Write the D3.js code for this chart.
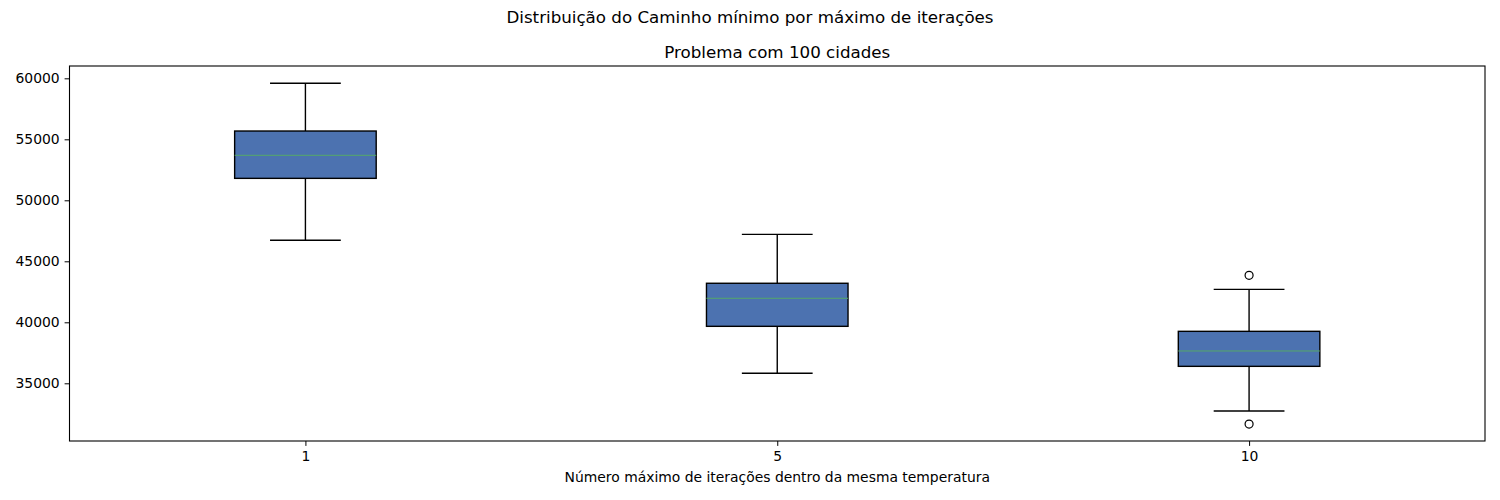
<!DOCTYPE html>
<html>
<head>
<meta charset="utf-8">
<script src="https://cdn.jsdelivr.net/npm/d3@7"></script>
<style>
  body { margin: 0; background: #fff; }
  text { font-family: "DejaVu Sans", sans-serif; fill: #000; }
</style>
</head>
<body>
<svg width="1500" height="500"></svg>
<script>
// data
var categories = ["1", "5", "10"];
var whiskerLow  = [46720, 35820, 32730];
var q1          = [51800, 39670, 36390];
var median      = [53690, 41970, 37650];
var q3          = [55680, 43200, 39260];
var whiskerHigh = [59590, 47210, 42700];
var fliers      = [[], [], [43850, 31660]];
var yTicks = [35000, 40000, 45000, 50000, 55000, 60000];

var boxes = categories.map(function(c, i) {
  return { cat: c, lo: whiskerLow[i], q1: q1[i], med: median[i], q3: q3[i], hi: whiskerHigh[i], out: fliers[i] };
});

var svg = d3.select("svg");
var plotL = 69.5, plotR = 1485, plotT = 66, plotB = 441;

var x = d3.scaleLinear().domain([0.5, 3.5]).range([plotL, plotR]);
var y = d3.scaleLinear().domain([30270, 61010]).range([plotB, plotT]);
var boxW = x(1.3) - x(1), capW = x(1.15) - x(1);

// titles
svg.append("text")
    .attr("x", 750).attr("y", 23)
    .attr("text-anchor", "middle")
    .style("font-size", "16.7px")
    .text("Distribuição do Caminho mínimo por máximo de iterações");
svg.append("text")
    .attr("x", (plotL + plotR) / 2).attr("y", 58)
    .attr("text-anchor", "middle")
    .style("font-size", "16.7px")
    .text("Problema com 100 cidades");

// y axis
var gy = svg.append("g").attr("transform", "translate(" + plotL + ",0)")
  .call(d3.axisLeft(y).tickValues(yTicks).tickSize(4.9).tickPadding(4.9).tickFormat(d3.format("d")));
gy.select(".domain").remove();
gy.selectAll("text").style("font-size", "13.9px").style("font-family", "DejaVu Sans");

// x axis
var gx = svg.append("g").attr("transform", "translate(0," + plotB + ")")
  .call(d3.axisBottom(x).tickValues([1, 2, 3]).tickSize(4.9).tickPadding(4.9)
    .tickFormat(function(d) { return categories[d - 1]; }));
gx.select(".domain").remove();
gx.selectAll("text").style("font-size", "13.9px").style("font-family", "DejaVu Sans");

svg.append("text")
    .attr("x", (plotL + plotR) / 2).attr("y", 482)
    .attr("text-anchor", "middle")
    .style("font-size", "13.9px")
    .text("Número máximo de iterações dentro da mesma temperatura");

// boxes
var g = svg.selectAll(".box").data(boxes).enter().append("g").attr("class", "box");

g.append("line")
    .attr("x1", function(d, i) { return x(i + 1); })
    .attr("x2", function(d, i) { return x(i + 1); })
    .attr("y1", function(d) { return y(d.lo); })
    .attr("y2", function(d) { return y(d.q1); })
    .attr("stroke", "#000").attr("stroke-width", 1.4);
g.append("line")
    .attr("x1", function(d, i) { return x(i + 1); })
    .attr("x2", function(d, i) { return x(i + 1); })
    .attr("y1", function(d) { return y(d.q3); })
    .attr("y2", function(d) { return y(d.hi); })
    .attr("stroke", "#000").attr("stroke-width", 1.4);
["lo", "hi"].forEach(function(k) {
  g.append("line")
      .attr("x1", function(d, i) { return x(i + 1) - capW / 2; })
      .attr("x2", function(d, i) { return x(i + 1) + capW / 2; })
      .attr("y1", function(d) { return y(d[k]); })
      .attr("y2", function(d) { return y(d[k]); })
      .attr("stroke", "#000").attr("stroke-width", 1.4);
});
g.append("rect")
    .attr("x", function(d, i) { return x(i + 1) - boxW / 2; })
    .attr("width", boxW)
    .attr("y", function(d) { return y(d.q3); })
    .attr("height", function(d) { return y(d.q1) - y(d.q3); })
    .attr("fill", "#4c72b0").attr("stroke", "#000").attr("stroke-width", 1.4);
g.append("line")
    .attr("x1", function(d, i) { return x(i + 1) - boxW / 2; })
    .attr("x2", function(d, i) { return x(i + 1) + boxW / 2; })
    .attr("y1", function(d) { return y(d.med); })
    .attr("y2", function(d) { return y(d.med); })
    .attr("stroke", "#55a868").attr("stroke-width", 1);
g.each(function(d, i) {
  d3.select(this).selectAll("circle").data(d.out).enter().append("circle")
      .attr("cx", x(i + 1))
      .attr("cy", function(v) { return y(v); })
      .attr("r", 4)
      .attr("fill", "none").attr("stroke", "#000").attr("stroke-width", 1.2);
});

// frame
svg.append("rect")
    .attr("x", plotL).attr("y", plotT)
    .attr("width", plotR - plotL).attr("height", plotB - plotT)
    .attr("fill", "none").attr("stroke", "#000").attr("stroke-width", 1.1);
</script>
</body>
</html>
